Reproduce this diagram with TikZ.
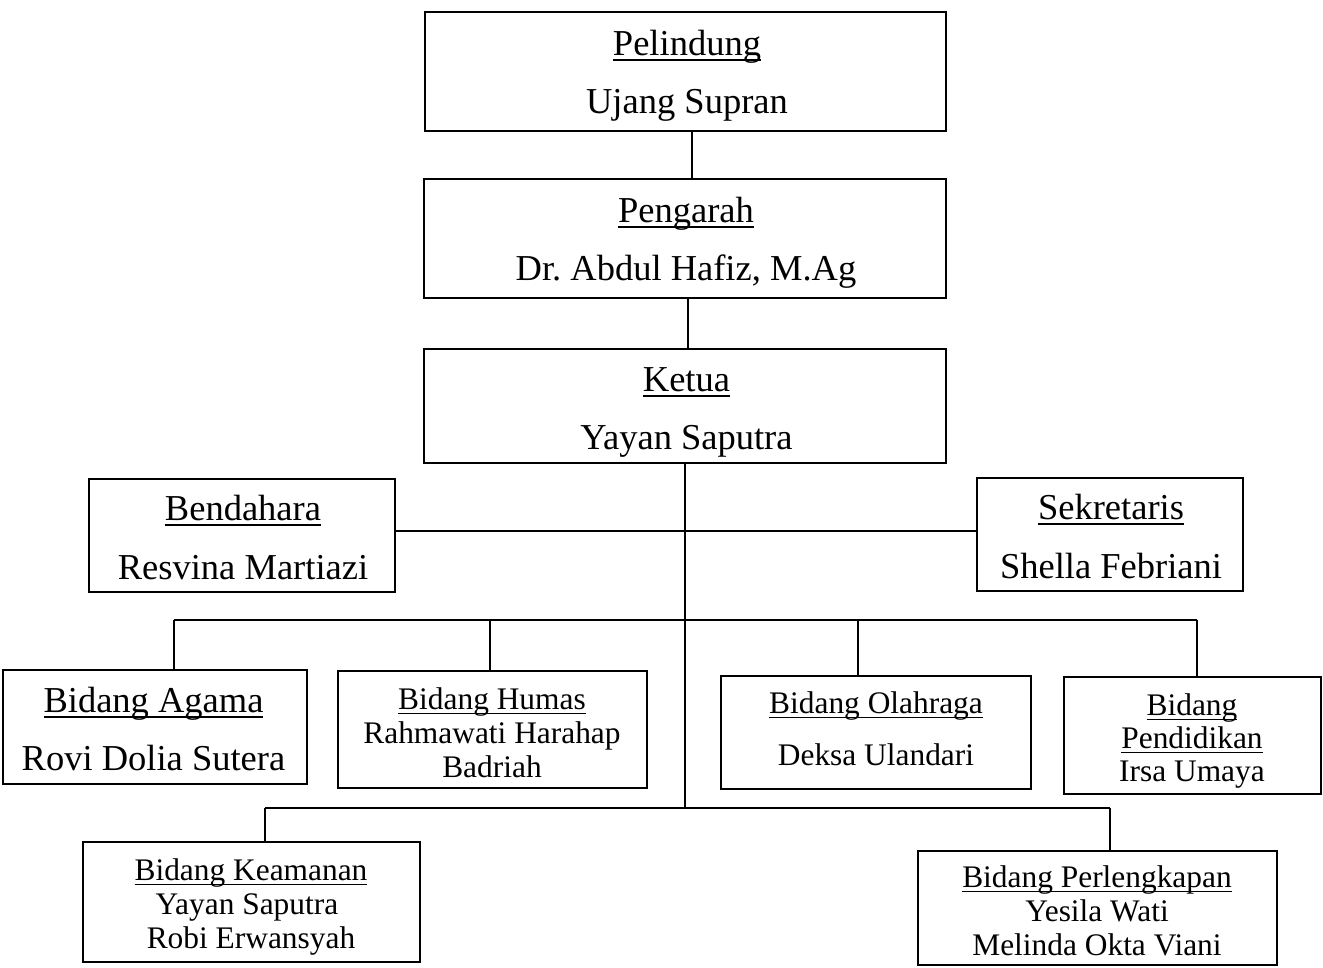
\documentclass[tikz,border=0pt]{standalone}
\usepackage{fontspec}
\setmainfont{Liberation Serif}
\usetikzlibrary{fit}
\frenchspacing
\newcommand\ulin[1]{\setbox0=\hbox{#1}\rlap{\rule[-0.17em]{\wd0}{0.055em}}\box0}
\begin{document}
\begin{tikzpicture}[x=1pt,y=-1pt,
  box/.style={draw, line width=1.6pt, inner sep=0pt},
  wire/.style={line width=1.6pt},
  big/.style={inner sep=0pt, anchor=base, font=\fontsize{36.5}{40}\selectfont},
  small/.style={inner sep=0pt, anchor=base, font=\fontsize{31.4}{34}\selectfont}]
\useasboundingbox (0,0) rectangle (1323,967);
% boxes
\node[box, fit={(425,12) (946,131)}] (pel) {};
\node[box, fit={(424,179) (946,298)}] (peng) {};
\node[box, fit={(424,349) (946,463)}] (ket) {};
\node[box, fit={(89,479) (395,592)}] (ben) {};
\node[box, fit={(977,478) (1243,591)}] (sek) {};
\node[box, fit={(3,670) (307,784)}] (aga) {};
\node[box, fit={(338,671) (647,788)}] (hum) {};
\node[box, fit={(721,676) (1031,789)}] (ola) {};
\node[box, fit={(1064,677) (1321,794)}] (pen) {};
\node[box, fit={(83,842) (420,962)}] (kea) {};
\node[box, fit={(918,851) (1277,965)}] (per) {};
% texts
\node[big] (pelA) at (687,55) {\ulin{Pelindung}};
\node[big] (pelB) at (687,113) {Ujang Supran};
\node[big] (pengA) at (686,222) {\ulin{Pengarah}};
\node[big] (pengB) at (686,280) {Dr. Abdul Hafiz, M.Ag};
\node[big] (ketA) at (686.5,391) {\ulin{Ketua}};
\node[big] (ketB) at (686.5,449) {Yayan Saputra};
\node[big] (benA) at (243,520) {\ulin{Bendahara}};
\node[big] (benB) at (243,579) {Resvina Martiazi};
\node[big] (sekA) at (1111,519) {\ulin{Sekretaris}};
\node[big] (sekB) at (1111,578) {Shella Febriani};
\node[big] (agaA) at (153.5,712) {\ulin{Bidang Agama}};
\node[big] (agaB) at (153.5,770) {Rovi Dolia Sutera};
\node[small] (humA) at (492,709) {\ulin{Bidang Humas}};
\node[small] (humB) at (492,743) {Rahmawati Harahap};
\node[small] (humC) at (492,777) {Badriah};
\node[small] (olaA) at (876,713) {\ulin{Bidang Olahraga}};
\node[small] (olaB) at (876,765) {Deksa Ulandari};
\node[small] (penA) at (1192,715) {\ulin{Bidang}};
\node[small] (penB) at (1192,748) {\ulin{Pendidikan}};
\node[small] (penC) at (1192,781) {Irsa Umaya};
\node[small] (keaA) at (251,880) {\ulin{Bidang Keamanan}};
\node[small] (keaB) at (247,914) {Yayan Saputra};
\node[small] (keaC) at (251,948) {Robi Erwansyah};
\node[small] (perA) at (1097,887) {\ulin{Bidang Perlengkapan}};
\node[small] (perB) at (1097,921) {Yesila Wati};
\node[small] (perC) at (1097,955) {Melinda Okta Viani};
% junction coordinates
\coordinate (t1) at (692,0);
\coordinate (t2) at (688,0);
\coordinate (jA) at (685,531);
\coordinate (jC) at (685,808);
\coordinate (dA) at (174,620);
\coordinate (dH) at (490,620);
\coordinate (dO) at (858,620);
\coordinate (dP) at (1197,620);
\coordinate (eK) at (265,808);
\coordinate (eP) at (1110,808);
% connectors
\draw[wire] (pel.south -| t1) -- (peng.north -| t1);
\draw[wire] (peng.south -| t2) -- (ket.north -| t2);
\draw[wire] (ket.south) -- (jC);
\draw[wire] (ben.east |- jA) -- (sek.west |- jA);
\draw[wire] (dA) -- (dP);
\draw[wire] (dA) -- (aga.north -| dA);
\draw[wire] (dH) -- (hum.north -| dH);
\draw[wire] (dO) -- (ola.north -| dO);
\draw[wire] (dP) -- (pen.north -| dP);
\draw[wire] (eK) -- (eP);
\draw[wire] (eK) -- (kea.north -| eK);
\draw[wire] (eP) -- (per.north -| eP);
\end{tikzpicture}
\end{document}
